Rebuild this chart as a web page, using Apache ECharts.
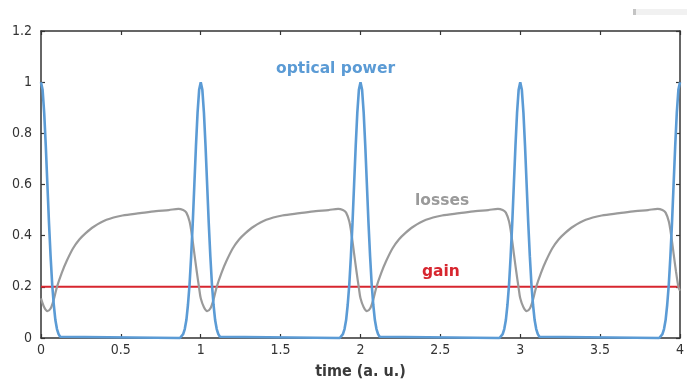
<!DOCTYPE html>
<html>
<head>
<meta charset="utf-8">
<script src="https://cdn.jsdelivr.net/npm/echarts@6/dist/echarts.min.js"></script>
<style>
  html, body { margin: 0; padding: 0; background: #fff; overflow: hidden; }
  #chart { width: 687px; height: 385px; }
</style>
</head>
<body>
<div id="chart"></div>
<script>
// Optical power pulses: [time, power]
const pulse0 = [[0,1],[0.01,0.97],[0.02,0.88],[0.03,0.75],[0.04,0.6],[0.05,0.45],[0.06,0.32],[0.07,0.21],[0.08,0.13],[0.09,0.07],[0.10,0.035],[0.11,0.015],[0.12,0.005],[0.13,0]];
const pulse1 = [[0.87,0],[0.88,0.005],[0.89,0.015],[0.90,0.035],[0.91,0.07],[0.92,0.13],[0.93,0.21],[0.94,0.32],[0.95,0.45],[0.96,0.6],[0.97,0.75],[0.98,0.88],[0.99,0.97],[1.00,1],[1.01,0.97],[1.02,0.88],[1.03,0.75],[1.04,0.6],[1.05,0.45],[1.06,0.32],[1.07,0.21],[1.08,0.13],[1.09,0.07],[1.10,0.035],[1.11,0.015],[1.12,0.005],[1.13,0]];
const pulse2 = [[1.87,0],[1.88,0.005],[1.89,0.015],[1.90,0.035],[1.91,0.07],[1.92,0.13],[1.93,0.21],[1.94,0.32],[1.95,0.45],[1.96,0.6],[1.97,0.75],[1.98,0.88],[1.99,0.97],[2.00,1],[2.01,0.97],[2.02,0.88],[2.03,0.75],[2.04,0.6],[2.05,0.45],[2.06,0.32],[2.07,0.21],[2.08,0.13],[2.09,0.07],[2.10,0.035],[2.11,0.015],[2.12,0.005],[2.13,0]];
const pulse3 = [[2.87,0],[2.88,0.005],[2.89,0.015],[2.90,0.035],[2.91,0.07],[2.92,0.13],[2.93,0.21],[2.94,0.32],[2.95,0.45],[2.96,0.6],[2.97,0.75],[2.98,0.88],[2.99,0.97],[3.00,1],[3.01,0.97],[3.02,0.88],[3.03,0.75],[3.04,0.6],[3.05,0.45],[3.06,0.32],[3.07,0.21],[3.08,0.13],[3.09,0.07],[3.10,0.035],[3.11,0.015],[3.12,0.005],[3.13,0]];
const pulse4 = [[3.87,0],[3.88,0.005],[3.89,0.015],[3.90,0.035],[3.91,0.07],[3.92,0.13],[3.93,0.21],[3.94,0.32],[3.95,0.45],[3.96,0.6],[3.97,0.75],[3.98,0.88],[3.99,0.97],[4.00,1]];

// Saturable losses: [time, loss]
const losses0 = [[0,0.155],[0.02,0.12],[0.04,0.105],[0.06,0.115],[0.08,0.15],[0.10,0.2],[0.13,0.255],[0.16,0.3],[0.20,0.35],[0.24,0.385],[0.28,0.41],[0.33,0.435],[0.41,0.462],[0.51,0.479],[0.62,0.488],[0.72,0.496],[0.80,0.5],[0.86,0.505],[0.89,0.5],[0.91,0.49],[0.93,0.455],[0.945,0.4],[0.96,0.33],[0.975,0.26],[0.99,0.195]];
const losses1 = [[1,0.155],[1.02,0.12],[1.04,0.105],[1.06,0.115],[1.08,0.15],[1.10,0.2],[1.13,0.255],[1.16,0.3],[1.20,0.35],[1.24,0.385],[1.28,0.41],[1.33,0.435],[1.41,0.462],[1.51,0.479],[1.62,0.488],[1.72,0.496],[1.80,0.5],[1.86,0.505],[1.89,0.5],[1.91,0.49],[1.93,0.455],[1.945,0.4],[1.96,0.33],[1.975,0.26],[1.99,0.195]];
const losses2 = [[2,0.155],[2.02,0.12],[2.04,0.105],[2.06,0.115],[2.08,0.15],[2.10,0.2],[2.13,0.255],[2.16,0.3],[2.20,0.35],[2.24,0.385],[2.28,0.41],[2.33,0.435],[2.41,0.462],[2.51,0.479],[2.62,0.488],[2.72,0.496],[2.80,0.5],[2.86,0.505],[2.89,0.5],[2.91,0.49],[2.93,0.455],[2.945,0.4],[2.96,0.33],[2.975,0.26],[2.99,0.195]];
const losses3 = [[3,0.155],[3.02,0.12],[3.04,0.105],[3.06,0.115],[3.08,0.15],[3.10,0.2],[3.13,0.255],[3.16,0.3],[3.20,0.35],[3.24,0.385],[3.28,0.41],[3.33,0.435],[3.41,0.462],[3.51,0.479],[3.62,0.488],[3.72,0.496],[3.80,0.5],[3.86,0.505],[3.89,0.5],[3.91,0.49],[3.93,0.455],[3.945,0.4],[3.96,0.33],[3.975,0.26],[3.99,0.2],[4.0,0.185]];

// Constant gain level
const gain = [[0,0.2],[4,0.2]];

const BLUE = '#5b9bd5';
const GREY = '#9a9a9a';
const RED = '#d7262f';
const AXIS = '#333333';
const TICK_FONT = "'Liberation Sans Narrow', 'DejaVu Sans Condensed', 'Liberation Sans', sans-serif";
const LABEL_FONT = "'DejaVu Sans', 'Noto Sans', sans-serif";

const chart = echarts.init(document.getElementById('chart'), null, { renderer: 'canvas' });

const axisBase = {
  axisLine: { show: true, onZero: false, lineStyle: { color: AXIS, width: 1.5 } },
  axisTick: { show: true, inside: true, length: 4, lineStyle: { color: AXIS, width: 1.2 } },
  splitLine: { show: false }
};

chart.setOption({
  animation: false,
  backgroundColor: '#ffffff',
  grid: { left: 41, right: 5, top: 31, bottom: 42, containLabel: false },
  xAxis: [
    Object.assign({
      type: 'value', min: 0, max: 4, interval: 0.5, position: 'bottom',
      name: 'time (a. u.)', nameLocation: 'middle', nameGap: 26,
      nameTextStyle: { fontFamily: TICK_FONT, fontWeight: 'bold', fontSize: 16, color: '#3a3a3a' },
      axisLabel: { fontFamily: TICK_FONT, fontSize: 14, color: '#333', margin: 5 }
    }, axisBase),
    Object.assign({
      type: 'value', min: 0, max: 4, interval: 0.5, position: 'top',
      axisLabel: { show: false }
    }, axisBase)
  ],
  yAxis: [
    Object.assign({
      type: 'value', min: 0, max: 1.2, interval: 0.2, position: 'left',
      axisLabel: { fontFamily: TICK_FONT, fontSize: 14, color: '#333', margin: 9 }
    }, axisBase),
    Object.assign({
      type: 'value', min: 0, max: 1.2, interval: 0.2, position: 'right',
      axisLabel: { show: false }
    }, axisBase)
  ],
  series: [
    {
      name: 'gain', type: 'line', data: gain, showSymbol: false, symbol: 'none',
      lineStyle: { color: RED, width: 2 }, z: 3
    },
    {
      name: 'losses', type: 'line', smooth: 0.3,
      data: losses0.concat(losses1, losses2, losses3),
      showSymbol: false, symbol: 'none',
      lineStyle: { color: GREY, width: 2.2 }, z: 4
    },
    {
      name: 'optical power', type: 'line', clip: false,
      data: pulse0.concat(pulse1, pulse2, pulse3, pulse4),
      showSymbol: false, symbol: 'none',
      lineStyle: { color: BLUE, width: 2.6 }, z: 5
    }
  ],
  graphic: [
    { type: 'rect', left: 633, top: 9, shape: { width: 54, height: 6 }, style: { fill: '#f1f1f1' } },
    { type: 'rect', left: 633, top: 9, shape: { width: 3, height: 6 }, style: { fill: '#c4c4c4' } },
    { type: 'text', left: 276, top: 61, style: { text: 'optical power', fill: BLUE, font: "bold 15.5px " + LABEL_FONT } },
    { type: 'text', left: 415, top: 193, style: { text: 'losses', fill: GREY, font: "bold 15.5px " + LABEL_FONT } },
    { type: 'text', left: 422, top: 264, style: { text: 'gain', fill: RED, font: "bold 15.5px " + LABEL_FONT } }
  ]
});
</script>
</body>
</html>
